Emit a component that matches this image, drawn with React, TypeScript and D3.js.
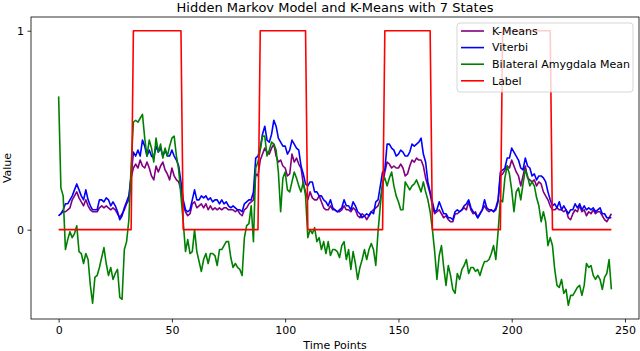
import React, { useEffect, useRef } from 'react';
import * as d3 from 'd3';

// values, one per time point (0..244)
const kmeans = [
  0.07, 0.08, 0.09, 0.09, 0.10, 0.11, 0.15, 0.17, 0.19, 0.16,
  0.14, 0.12, 0.15, 0.12, 0.10, 0.09, 0.09, 0.09, 0.11, 0.12,
  0.11, 0.12, 0.11, 0.10, 0.11, 0.10, 0.08, 0.06, 0.08, 0.10,
  0.13, 0.15, 0.26, 0.31, 0.33, 0.31, 0.35, 0.32, 0.31, 0.34,
  0.31, 0.27, 0.25, 0.32, 0.29, 0.32, 0.34, 0.30, 0.28, 0.25,
  0.31, 0.27, 0.25, 0.24, 0.20, 0.12, 0.09, 0.07, 0.08, 0.13,
  0.14, 0.11, 0.12, 0.13, 0.11, 0.13, 0.10, 0.12, 0.10, 0.11,
  0.10, 0.11, 0.10, 0.11, 0.11, 0.10, 0.10, 0.10, 0.09, 0.10,
  0.08, 0.07, 0.10, 0.11, 0.13, 0.14, 0.15, 0.28, 0.27, 0.35,
  0.38, 0.41, 0.39, 0.38, 0.41, 0.43, 0.37, 0.34, 0.35, 0.32,
  0.31, 0.27, 0.28, 0.38, 0.34, 0.36, 0.33, 0.31, 0.23, 0.19,
  0.15, 0.19, 0.16, 0.15, 0.15, 0.17, 0.14, 0.11, 0.10, 0.10,
  0.12, 0.10, 0.10, 0.09, 0.09, 0.10, 0.12, 0.10, 0.10, 0.09,
  0.11, 0.10, 0.07, 0.06, 0.08, 0.07, 0.05, 0.07, 0.09, 0.10,
  0.11, 0.12, 0.15, 0.22, 0.29, 0.34, 0.33, 0.31, 0.32, 0.31,
  0.31, 0.33, 0.31, 0.27, 0.28, 0.32, 0.35, 0.34, 0.36, 0.35,
  0.35, 0.32, 0.26, 0.22, 0.18, 0.12, 0.08, 0.09, 0.10, 0.08,
  0.06, 0.07, 0.05, 0.04, 0.04, 0.08, 0.08, 0.09, 0.10, 0.11,
  0.10, 0.14, 0.10, 0.08, 0.09, 0.06, 0.08, 0.10, 0.12, 0.10,
  0.09, 0.10, 0.09, 0.10, 0.14, 0.27, 0.28, 0.30, 0.32, 0.31,
  0.35, 0.32, 0.29, 0.27, 0.22, 0.27, 0.32, 0.26, 0.25, 0.24,
  0.25, 0.22, 0.24, 0.23, 0.19, 0.17, 0.15, 0.12, 0.10, 0.10,
  0.11, 0.10, 0.10, 0.09, 0.10, 0.06, 0.05, 0.08, 0.10, 0.09,
  0.12, 0.09, 0.10, 0.07, 0.09, 0.08, 0.10, 0.08, 0.09, 0.09,
  0.07, 0.05, 0.04, 0.06, 0.08,
];

const viterbi = [
  0.07, 0.08, 0.10, 0.13, 0.13, 0.15, 0.17, 0.20, 0.23, 0.20,
  0.17, 0.15, 0.20, 0.15, 0.12, 0.10, 0.10, 0.10, 0.15, 0.15,
  0.14, 0.16, 0.15, 0.12, 0.14, 0.12, 0.09, 0.05, 0.07, 0.11,
  0.14, 0.17, 0.27, 0.39, 0.37, 0.40, 0.37, 0.45, 0.42, 0.37,
  0.40, 0.37, 0.36, 0.42, 0.39, 0.41, 0.37, 0.40, 0.37, 0.37,
  0.40, 0.37, 0.35, 0.32, 0.24, 0.15, 0.10, 0.09, 0.10, 0.15,
  0.20, 0.15, 0.15, 0.17, 0.16, 0.17, 0.15, 0.16, 0.14, 0.15,
  0.15, 0.13, 0.15, 0.13, 0.14, 0.12, 0.11, 0.12, 0.11, 0.10,
  0.10, 0.09, 0.13, 0.14, 0.15, 0.15, 0.19, 0.36, 0.37, 0.41,
  0.48, 0.52, 0.45, 0.44, 0.48, 0.55, 0.52, 0.46, 0.44, 0.42,
  0.42, 0.38, 0.40, 0.45, 0.43, 0.41, 0.40, 0.32, 0.28, 0.23,
  0.22, 0.24, 0.24, 0.19, 0.19, 0.17, 0.17, 0.15, 0.14, 0.12,
  0.15, 0.11, 0.10, 0.09, 0.10, 0.11, 0.15, 0.12, 0.12, 0.10,
  0.14, 0.12, 0.09, 0.08, 0.06, 0.07, 0.08, 0.07, 0.09, 0.08,
  0.14, 0.15, 0.22, 0.29, 0.30, 0.43, 0.43, 0.41, 0.40, 0.37,
  0.38, 0.40, 0.39, 0.37, 0.37, 0.39, 0.43, 0.42, 0.43, 0.44,
  0.46, 0.38, 0.34, 0.24, 0.19, 0.14, 0.09, 0.10, 0.14, 0.11,
  0.08, 0.08, 0.06, 0.06, 0.05, 0.09, 0.10, 0.09, 0.10, 0.12,
  0.13, 0.15, 0.11, 0.09, 0.08, 0.06, 0.08, 0.10, 0.15, 0.11,
  0.10, 0.10, 0.09, 0.11, 0.15, 0.29, 0.30, 0.31, 0.36, 0.36,
  0.41, 0.39, 0.37, 0.35, 0.31, 0.30, 0.36, 0.32, 0.31, 0.27,
  0.28, 0.25, 0.27, 0.27, 0.26, 0.24, 0.19, 0.15, 0.12, 0.13,
  0.11, 0.14, 0.10, 0.12, 0.10, 0.08, 0.10, 0.10, 0.13, 0.11,
  0.13, 0.10, 0.12, 0.10, 0.11, 0.10, 0.11, 0.09, 0.10, 0.11,
  0.08, 0.08, 0.06, 0.06, 0.06,
];

const amygdala = [
  0.67, 0.21, 0.17, -0.10, -0.05, -0.01, -0.04, -0.02, 0.02, -0.11,
  -0.12, -0.17, -0.12, -0.15, -0.28, -0.37, -0.24, -0.23, -0.19, -0.14,
  -0.09, -0.17, -0.23, -0.19, -0.25, -0.22, -0.20, -0.34, -0.35, -0.10,
  -0.06, 0.05, 0.32, 0.54, 0.55, 0.54, 0.56, 0.58, 0.46, 0.37,
  0.45, 0.41, 0.34, 0.46, 0.39, 0.43, 0.36, 0.41, 0.37, 0.42,
  0.46, 0.47, 0.37, 0.30, 0.17, 0.04, -0.11, -0.05, -0.12, -0.11,
  0.00, -0.11, -0.16, -0.21, -0.15, -0.12, -0.17, -0.12, -0.12, -0.13,
  -0.18, -0.10, -0.10, -0.08, -0.06, -0.06, -0.14, -0.19, -0.17, -0.19,
  -0.20, -0.23, -0.04, 0.02, 0.03, 0.12, -0.06, 0.31, 0.34, 0.40,
  0.47, 0.47, 0.37, 0.40, 0.44, 0.43, 0.40, 0.29, 0.09, 0.26,
  0.29, 0.20, 0.19, 0.24, 0.29, 0.26, 0.22, 0.19, 0.24, 0.17,
  -0.04, 0.00, -0.02, 0.01, -0.06, -0.04, -0.10, -0.06, -0.12, -0.06,
  -0.13, -0.10, -0.10, -0.11, -0.14, -0.08, -0.06, -0.15, -0.10, -0.20,
  -0.11, -0.17, -0.25, -0.19, -0.15, -0.10, -0.15, -0.10, -0.07, -0.10,
  -0.18, -0.01, 0.12, 0.24, 0.26, 0.22, 0.26, 0.29, 0.22, 0.17,
  0.14, 0.10, 0.10, 0.24, 0.22, 0.20, 0.22, 0.23, 0.25, 0.22,
  0.19, 0.24, 0.19, 0.15, 0.09, 0.00, -0.11, -0.25, -0.13, -0.08,
  -0.19, -0.28, -0.18, -0.23, -0.30, -0.32, -0.22, -0.25, -0.20, -0.18,
  -0.15, -0.22, -0.19, -0.19, -0.21, -0.20, -0.23, -0.19, -0.16, -0.16,
  -0.15, -0.12, -0.08, -0.15, -0.01, 0.15, 0.14, 0.26, 0.32, 0.28,
  0.20, 0.09, 0.19, 0.21, 0.15, 0.23, 0.30, 0.27, 0.22, 0.24,
  0.22, 0.16, 0.12, 0.04, 0.09, 0.04, -0.08, -0.04, -0.08, -0.20,
  -0.28, -0.29, -0.25, -0.32, -0.30, -0.38, -0.33, -0.33, -0.31, -0.29,
  -0.28, -0.33, -0.28, -0.17, -0.19, -0.18, -0.23, -0.25, -0.23, -0.25,
  -0.30, -0.24, -0.22, -0.15, -0.30,
];

// label = 1 inside these (first, last) time point blocks, 0 elsewhere
const labelBlocks = [
  [33, 54],
  [89, 109],
  [144, 164],
  [196, 217],
];

const seriesNames = ['K-Means', 'Viterbi', 'Bilateral Amygdala Mean', 'Label'];
const seriesColors = ['purple', 'blue', 'green', 'red'];
const xTicks = [0, 50, 100, 150, 200, 250];
const yTicks = [0, 1];

const FONT = '"DejaVu Sans", sans-serif';

const App = () => {
  const chartRef = useRef<SVGSVGElement>(null);

  useEffect(() => {
    const width = 640;
    const height = 351;
    const margin = { top: 17, right: 1, bottom: 32, left: 31 };
    const innerWidth = width - margin.left - margin.right;
    const innerHeight = height - margin.top - margin.bottom;

    const label = kmeans.map((_, i) =>
      labelBlocks.some(([a, b]) => i >= a && i <= b) ? 1 : 0
    );
    const series = [kmeans, viterbi, amygdala, label];

    // matplotlib style 5% padding on both axes
    const n = kmeans.length - 1;
    const xPad = n * 0.05;
    const yMin = d3.min(series, (s) => d3.min(s))!;
    const yMax = d3.max(series, (s) => d3.max(s))!;
    const yPad = (yMax - yMin) * 0.05;

    const xScale = d3.scaleLinear().domain([-xPad, n + xPad]).range([0, innerWidth]);
    const yScale = d3.scaleLinear().domain([yMin - yPad, yMax + yPad]).range([innerHeight, 0]);

    const svg = d3.select(chartRef.current);
    svg.selectAll('*').remove();

    svg.append('text')
      .attr('x', margin.left + innerWidth / 2)
      .attr('y', 12)
      .attr('text-anchor', 'middle')
      .attr('font-family', FONT)
      .attr('font-size', 13)
      .text('Hidden Markov Model and K-Means with 7 States');

    const g = svg.append('g').attr('transform', `translate(${margin.left},${margin.top})`);

    const xAxis = g.append('g')
      .attr('transform', `translate(0,${innerHeight})`)
      .call(d3.axisBottom(xScale).tickValues(xTicks).tickSize(3.5).tickPadding(3.5));
    const yAxis = g.append('g')
      .call(d3.axisLeft(yScale).tickValues(yTicks).tickFormat(d3.format('d')).tickSize(3.5).tickPadding(3.5));
    [xAxis, yAxis].forEach((a) => {
      a.select('.domain').remove();
      a.selectAll('text').attr('font-family', FONT).attr('font-size', 11).attr('fill', '#000');
      a.selectAll('line').attr('stroke', '#000').attr('stroke-width', 0.8);
    });

    const line = d3.line<number>()
      .x((_, i) => xScale(i))
      .y((d) => yScale(d));

    series.forEach((s, k) => {
      g.append('path')
        .datum(s)
        .attr('d', line)
        .attr('fill', 'none')
        .attr('stroke', seriesColors[k])
        .attr('stroke-width', 1.6)
        .attr('stroke-linejoin', 'round');
    });

    g.append('rect')
      .attr('width', innerWidth)
      .attr('height', innerHeight)
      .attr('fill', 'none')
      .attr('stroke', '#000')
      .attr('stroke-width', 0.8);

    svg.append('text')
      .attr('x', margin.left + innerWidth / 2)
      .attr('y', 349)
      .attr('text-anchor', 'middle')
      .attr('font-family', FONT)
      .attr('font-size', 11)
      .text('Time Points');

    svg.append('text')
      .attr('transform', `translate(11,${margin.top + innerHeight / 2}) rotate(-90)`)
      .attr('text-anchor', 'middle')
      .attr('font-family', FONT)
      .attr('font-size', 11)
      .text('Value');

    // legend, upper right
    const legend = svg.append('g').attr('transform', 'translate(457,23)');
    legend.append('rect')
      .attr('width', 176)
      .attr('height', 69)
      .attr('rx', 3)
      .attr('fill', '#fff')
      .attr('fill-opacity', 0.8)
      .attr('stroke', '#ccc')
      .attr('stroke-opacity', 0.8);
    seriesNames.forEach((name, k) => {
      const row = legend.append('g').attr('transform', `translate(0,${8 + k * 16.6})`);
      row.append('line')
        .attr('x1', 4).attr('x2', 27)
        .attr('stroke', seriesColors[k])
        .attr('stroke-width', 1.6);
      row.append('text')
        .attr('x', 35)
        .attr('dy', '0.35em')
        .attr('font-family', FONT)
        .attr('font-size', 11)
        .text(name);
    });
  }, []);

  return (
    <svg
      ref={chartRef}
      width={640}
      height={351}
      style={{ position: 'absolute', left: 0, top: 0, background: '#fff' }}
    />
  );
};

export default App;
